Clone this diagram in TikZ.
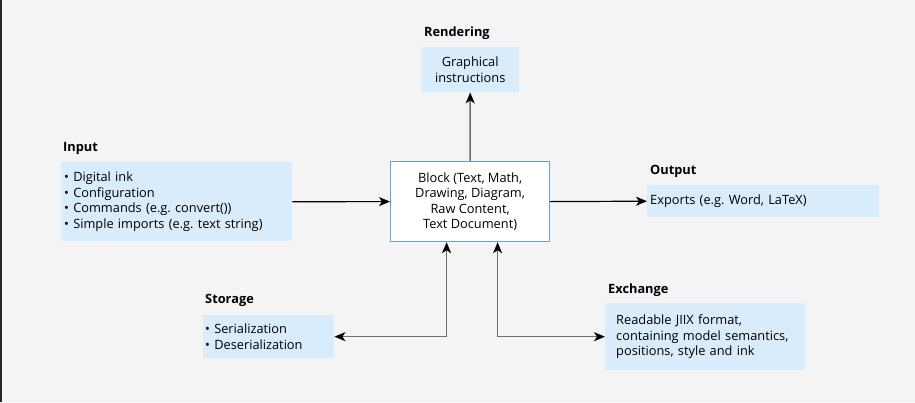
\documentclass[tikz,border=0pt]{standalone}
\usepackage{fontspec}
\setmainfont{Open Sans}
\usetikzlibrary{arrows.meta}
\definecolor{bg}{HTML}{F4F4F4}
\definecolor{boxfill}{HTML}{D9ECFC}
\definecolor{blockedge}{HTML}{6A9FD4}
\definecolor{linegray}{HTML}{6E6E6E}
\frenchspacing
\begin{document}
\begin{tikzpicture}[x=1pt,y=-1pt,
  font=\fontsize{12.8}{15.4}\selectfont\frenchspacing,
  infobox/.style={fill=boxfill, draw=none, inner sep=0pt, anchor=north west},
  lbl/.style={font=\fontsize{12.8}{15}\selectfont\bfseries, anchor=west, inner sep=0pt},
  arr/.style={line width=1.2pt, -{Stealth[length=11pt,width=9pt,inset=3pt]}},
  garr/.style={line width=1.4pt, draw=linegray, {Stealth[length=11pt,width=9pt,inset=3pt,color=black]}-{Stealth[length=11pt,width=9pt,inset=3pt,color=black]}}
]
\fill[bg] (0,0) rectangle (915,402);
\useasboundingbox (0,0) rectangle (915,402);
\draw[line width=1.6pt, black!85] (0.8,0) -- (0.8,402);

% boxes
\node[infobox, minimum width=98pt, minimum height=45pt, align=center] (render) at (421,47) {Graphical\\instructions};
\node[infobox, minimum height=79pt, text width=231pt, align=left] (input) at (61,162) {\hspace*{3pt}• Digital ink\\\hspace*{3pt}• Configuration\\\hspace*{3pt}• Commands (e.g. convert())\\\hspace*{3pt}• Simple imports (e.g. text string)};
\node[fill=white, draw=blockedge, line width=1.2pt, minimum width=159pt, minimum height=80pt, align=center, inner sep=0pt, anchor=north west] (block) at (390,161) {Block (Text, Math,\\Drawing, Diagram,\\Raw Content,\hspace*{14pt}\\Text Document)};
\node[infobox, minimum height=32pt, text width=232pt, align=left] (output) at (647,185) {\hspace*{3pt}Exports (e.g. Word, LaTeX)};
\node[infobox, minimum height=43pt, text width=131pt, align=left] (storage) at (203,315) {\hspace*{2pt}• Serialization\\\hspace*{2pt}• Deserialization};
\node[infobox, minimum height=67pt, text width=200pt, align=left] (exchange) at (605,303) {\hspace*{11pt}Readable JIIX format,\\\hspace*{11pt}containing model semantics,\\\hspace*{11pt}positions, style and ink};

% labels
\node[lbl] (lrender) at (424,33) {Rendering};
\node[lbl] (linput) at (63,148) {Input};
\node[lbl] (loutput) at (650,171) {Output};
\node[lbl] (lstorage) at (205,300) {Storage};
\node[lbl] (lexchange) at (608,290) {Exchange};

% connectors
\draw[arr] (input.east) -- (block.west);
\draw[arr] (block.east) -- (output.west);
\draw[line width=1.4pt, draw=linegray, -{Stealth[length=11pt,width=9pt,inset=3pt,color=black]}] (block.north) -- (render.south);
\draw[garr] (storage.east) -| ([xshift=-23.5pt]block.south);
\draw[garr] (exchange.west) -| ([xshift=27.5pt]block.south);
\end{tikzpicture}
\end{document}
